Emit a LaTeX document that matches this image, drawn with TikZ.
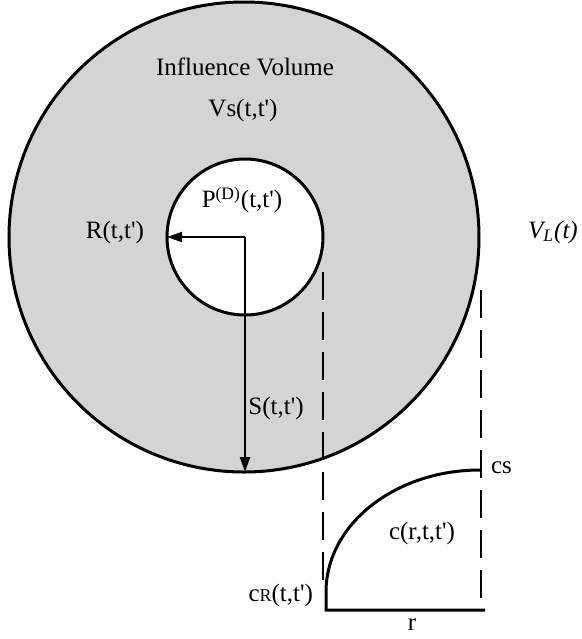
\documentclass[tikz,border=0pt]{standalone}
\usepackage{fontspec}
\setmainfont{Liberation Serif}[Ligatures=TeXOff]
\usetikzlibrary{arrows.meta,positioning}

\begin{document}
\begin{tikzpicture}[
x=0.5pt,y=-0.5pt,
font=\fontsize{12.5}{15}\selectfont,
zone/.style={draw,circle,line width=1.5pt,inner sep=0pt,outer sep=0pt},
t/.style={-{Triangle[length=7.5pt,width=5pt]},line width=1pt},
guide/.style={line width=1.3pt,dash pattern=on 14pt off 6pt},
curve/.style={line width=1.5pt}
]
\useasboundingbox (0,0) rectangle (582,639);
\node[zone,fill=black!17,minimum size=235pt] (vs) at (244,237) {};
\node[zone,fill=white,minimum size=78pt] (pd) at (245,237) {};

\draw[t] (pd.center) -- (pd.west);
\draw[t] (pd.center) -- (pd.center |- vs.south);

\coordinate (g1) at (323,272);
\coordinate (g2) at (323,592);
\coordinate (g3) at (481,290);
\coordinate (g4) at (481,604);
\draw[guide] (g1) -- (g2);
\draw[guide] (g3) -- (g4);

\coordinate (o) at (326,610);
\coordinate (rend) at (485,610);
\draw[curve] (rend) -- (o) -- ++(0,-18) arc[start angle=180,end angle=90,x radius=77pt,y radius=61pt];

\node (infl) at (245,67) {Influence Volume};
\node (vsl) at (243,110) {Vs(t,t')};
\node (pdl) at (242,200) {P\textsuperscript{(D)}(t,t')};
\node[anchor=east] (rl) at (151,232) {R(t,t')};
\node (sl) at (276,408) {S(t,t')};
\node (vl) at (553,232) {\itshape V\textsubscript{L}(t)};
\node[anchor=west] (csl) at (484,468) {cs};
\node (cl) at (422,533) {c(r,t,t')};
\node[anchor=east] (crl) at (320,595) {c{\fontsize{9}{10}\selectfont R}(t,t')};
\node (rlab) at (412,625) {r};
\end{tikzpicture}
\end{document}
